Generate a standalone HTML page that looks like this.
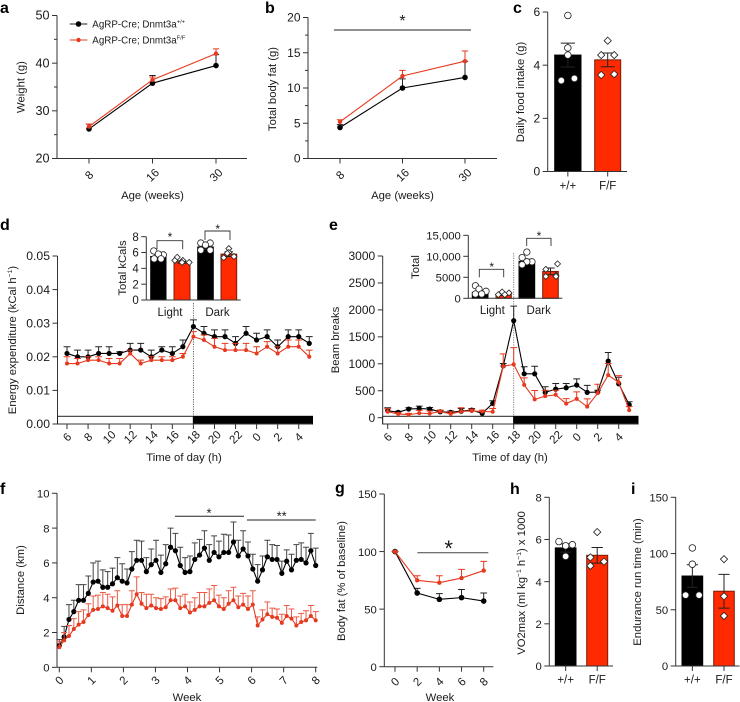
<!DOCTYPE html>
<html lang="en">
<head>
<meta charset="utf-8">
<title>AgRP-Cre Dnmt3a metabolic phenotype figure</title>
<style>
html,body{margin:0;padding:0;background:#fff;}
svg{display:block;width:740px;height:702px;filter:blur(0.35px);}
text{font-family:"Liberation Sans",Arial,sans-serif;font-size:11.5px;fill:#1a1a1a;}
.letter{font-weight:bold;font-size:16px;fill:#000;}
.title{font-size:11.3px;}
.legend{font-size:9.8px;}
.sup{font-size:6.8px;}
</style>
</head>
<body>
<svg id="fig" xmlns="http://www.w3.org/2000/svg" width="740" height="702" viewBox="0 0 740 702">
  <text class="letter" x="0" y="13">a</text>
  <text class="letter" x="265" y="13">b</text>
  <text class="letter" x="513" y="13">c</text>
  <text class="letter" x="0" y="230">d</text>
  <text class="letter" x="329" y="230">e</text>
  <text class="letter" x="0" y="494">f</text>
  <text class="letter" x="335" y="493">g</text>
  <text class="letter" x="510" y="494">h</text>
  <text class="letter" x="631" y="494">i</text>

  <text class="title" text-anchor="middle" x="152.5" y="199">Age (weeks)</text>
  <text class="title" text-anchor="middle" transform="translate(24.5,87) rotate(-90)">Weight (g)</text>
  <text class="title" text-anchor="middle" x="402.5" y="199">Age (weeks)</text>
  <text class="title" text-anchor="middle" transform="translate(276,89) rotate(-90)">Total body fat (g)</text>
  <text class="title" text-anchor="middle" transform="translate(524,92) rotate(-90)">Daily food intake (g)</text>
  <text class="title" text-anchor="middle" x="184" y="461">Time of day (h)</text>
  <text class="title" text-anchor="middle" transform="translate(16,340) rotate(-90)">Energy expenditure (kCal h<tspan class="sup" dy="-4">−1</tspan><tspan dy="4">)</tspan></text>
  <text class="title" text-anchor="middle" transform="translate(126,268) rotate(-90)">Total kCals</text>
  <text class="title" text-anchor="middle" x="510" y="461">Time of day (h)</text>
  <text class="title" text-anchor="middle" transform="translate(339,340) rotate(-90)">Beam breaks</text>
  <text class="title" text-anchor="middle" transform="translate(419,267) rotate(-90)">Total</text>
  <text class="title" text-anchor="middle" x="187" y="701">Week</text>
  <text class="title" text-anchor="middle" transform="translate(24,580) rotate(-90)">Distance (km)</text>
  <text class="title" text-anchor="middle" x="440" y="701">Week</text>
  <text class="title" text-anchor="middle" transform="translate(345,581) rotate(-90)">Body fat (% of baseline)</text>
  <text class="title" text-anchor="middle" transform="translate(525,583) rotate(-90)">VO2max (ml kg<tspan class="sup" dy="-4">−1</tspan><tspan dy="4"> h</tspan><tspan class="sup" dy="-4">−1</tspan><tspan dy="4">) x 1000</tspan></text>
  <text class="title" text-anchor="middle" transform="translate(641,582) rotate(-90)">Endurance run time (min)</text>

  <g>
    <line x1="69.7" y1="24" x2="87.3" y2="24" stroke="#222" stroke-width="1"/>
    <circle cx="78.5" cy="24" r="2.8" fill="#000"/>
    <text class="legend" x="92.3" y="27.5">AgRP-Cre; Dnmt3a<tspan font-size="5.8" dy="-4">+/+</tspan></text>
    <line x1="69.7" y1="40" x2="87.3" y2="40" stroke="#e6391f" stroke-width="1"/>
    <circle cx="78.5" cy="40" r="2.2" fill="#e6391f"/>
    <text class="legend" x="92.3" y="43.5">AgRP-Cre; Dnmt3a<tspan font-size="5.8" dy="-4">F/F</tspan></text>
  </g>

  <g id="charts"></g>
</svg>

<script>
/* Panel a */
const aCategories = ['8','16','30'];
const aBlack = [26.2,35.8,39.5];
const aBlackUpper = [27.2,37.4,41.8];
const aRed = [26.7,36.5,42];
const aRedUpper = [27.2,37.1,43];
const aYTicks = [20,30,40,50];
const aYMinor = [25,35,45];
/* Panel b */
const bCategories = ['8','16','30'];
const bBlack = [4.4,10,11.5];
const bBlackUpper = [4.8,11.3,13.8];
const bRed = [5.2,11.7,13.8];
const bRedUpper = [5.5,12.5,15.25];
const bYTicks = [0,5,10,15,20];
const bYMinor = [2.5,7.5,12.5,17.5];
/* Panel c */
const groupLabels = ['+/+','F/F'];
const cBars = [4.38,4.2];
const cErr = [0.45,0.26];
const cYTicks = [0,2,4,6];
const cBlackDots = [5.87,4.65,4.38,3.42,3.5];
const cBlackSlots = [0,0,0,-0.5,0.5];
const cRedDots = [4.92,4.38,4.38,3.63,3.66];
const cRedSlots = [0,-0.5,0.5,-0.5,0.5];
/* Panel d */
const hourLabels = ['6','8','10','12','14','16','18','20','22','0','2','4'];
const hours = [6,7,8,9,10,11,12,13,14,15,16,17,18,19,20,21,22,23,24,25,26,27,28,29];
const dBlack = [.021,.020,.020,.021,.021,.021,.022,.022,.020,.022,.021,.023,.029,.027,.026,.026,.024,.027,.025,.026,.023,.026,.026,.024];
const dBlackUpper = [.023,.022,.022,.023,.023,.0215,.024,.024,.022,.023,.023,.025,.031,.029,.028,.028,.026,.029,.027,.028,.025,.028,.028,.026];
const dRed = [.018,.018,.019,.019,.018,.018,.021,.018,.019,.019,.019,.020,.026,.025,.023,.022,.022,.022,.021,.023,.021,.023,.023,.020];
const dRedUpper = [.020,.0195,.020,.020,.0195,.0195,.022,.019,.020,.020,.020,.021,.0275,.0265,.0255,.024,.024,.024,.023,.0245,.023,.025,.025,.022];
const dYTicks = ['0.00','0.01','0.02','0.03','0.04','0.05'];
/* Panel d inset */
const dInsetBars = [5.5,4.8,6.7,5.8];
const dInsetErr = [0.25,0.15,0.3,0.3];
const dInsetTicks = [0,2,4,6,8];
const dInsetDots = [[6.2,5.7,5.8,5.2,5.2],[5.4,5.0,5.0,4.75,4.75],[7.2,7.2,6.95,6.3,6.3],[6.5,6.0,5.35,5.5,5.9]];
const dInsetSlots = [[-0.6,0.65,0,-0.55,0.35],[-0.6,0.1,-0.9,0.9,0],[-0.6,0.6,0,-0.6,0.6],[0,0,-0.65,0.65,-0.2]];
/* Panel e */
const eBlack = [130,100,160,170,160,110,100,120,140,80,265,960,1800,814,814,470,530,555,605,470,475,1050,630,240];
const eBlackUpper = [185,120,185,215,190,130,125,170,170,110,315,1005,2070,945,955,575,635,635,720,600,510,1210,750,295];
const eRed = [110,70,55,85,75,115,70,115,125,115,110,955,990,610,340,400,425,260,350,205,455,790,655,140];
const eRedUpper = [165,90,80,135,125,140,110,185,160,140,170,1185,1300,740,505,510,510,355,480,350,620,1005,780,205];
const eYTicks = [0,500,1000,1500,2000,2500,3000];
/* Panel e inset */
const eInsetBars = [1400,900,8800,6400];
const eInsetErr = [500,200,500,800];
const eInsetTicks = [0,5000,10000,15000];
const eInsetTickLabels = ['0','5000','10,000','15,000'];
const eInsetDots = [[3000,2200,1670,1030,1030],[1500,1270,870,870],[11000,9700,8700,8700,8000],[8200,6900,5500,5200,5200]];
const eInsetSlots = [[-0.6,-0.15,0.75,-0.6,0.2],[-0.2,0.7,-0.7,0.15],[0,-0.6,0.65,0,-0.6],[0.9,-0.6,0.7,-0.6,0.7]];
/* Panel f */
const fWeeks = ['0','1','2','3','4','5','6','7','8'];
const fBlack = [1.25,1.75,2.75,3.2,3.85,3.85,4.25,4.9,4.95,4.6,4.6,4.8,5.15,4.95,4.85,5.65,6.15,6.15,5.5,5.9,6.15,5.45,5.95,6.9,6.7,5.85,5.45,5.5,6.2,6.45,6.85,6.15,6.6,6.35,6.6,6.6,7.2,6.4,6.8,6.4,5.65,4.95,5.6,6.35,6.2,6.2,5.4,6.1,5.6,6.15,6.2,6.0,6.7,5.85];
const fBlackUpper = [1.6,2.35,3.6,3.85,4.75,4.75,5.25,6.0,6.1,5.6,5.5,5.7,6.3,5.95,5.65,6.65,7.3,7.25,6.3,6.8,7.3,6.45,7.05,8.0,7.7,6.9,6.3,6.4,7.15,7.35,7.85,7.05,7.55,7.25,7.65,7.6,8.35,7.3,7.85,7.2,6.5,5.9,6.4,7.3,7.05,7,6.1,6.75,6.5,7.05,7.15,6.9,7.7,6.85];
const fRed = [1.15,1.55,1.8,2.2,2.45,2.6,3.0,3.3,3.35,3.5,3.4,3.25,3.55,2.95,2.95,3.6,4.2,3.65,3.4,3.55,3.4,3.35,3.45,3.85,3.85,3.4,3.5,3.15,3.3,3.5,3.5,3.7,3.85,3.5,3.35,3.65,3.85,3.45,3.6,3.35,3.6,2.4,2.75,3.05,2.9,2.85,2.55,2.95,2.8,2.4,2.6,2.7,2.95,2.7];
const fRedUpper = [1.5,2.0,2.4,2.8,3.2,3.3,3.65,4.1,4.15,4.3,4.2,4.05,4.4,3.6,3.6,4.4,5.2,4.3,4.2,4.2,4.0,3.95,4.05,4.5,4.55,4.1,4.2,3.75,4.0,4.3,4.3,4.5,4.7,4.15,4.0,4.4,4.6,4.1,4.25,4.1,4.4,2.9,3.3,3.75,3.4,3.35,3.05,3.55,3.35,2.9,3.1,3.25,3.55,3.2];
const fYTicks = [0,2,4,6,8,10];
/* Panel g */
const gWeeks = [0,2,4,6,8];
const gBlack = [100,64,58.5,60,57];
const gBlackUpper = [100,68,63.5,67,64];
const gRed = [100,75,73,77,83.5];
const gRedUpper = [100,79,79,84.5,91.5];
const gYTicks = [0,50,100,150];
/* Panel h */
const hBars = [5.6,5.25];
const hErr = [0.2,0.37];
const hYTicks = [0,2,4,6,8];
const hBlackDots = [5.9,5.7,5.75,5.2];
const hBlackSlots = [-0.65,0,0.65,0];
const hRedDots = [6.35,5.15,4.95,4.75];
const hRedSlots = [0,-0.65,0.65,-0.65];
/* Panel i */
const iBars = [80,66.5];
const iErr = [10,15];
const iYTicks = [0,50,100,150];
const iBlackDots = [105,90.5,63,63];
const iBlackSlots = [0,0,-0.65,0.65];
const iRedDots = [95,62,44.5];
const iRedSlots = [0,0,0];

const SVGNS = 'http://www.w3.org/2000/svg';
const RED = '#e6391f';
const BAR_RED = '#ff2a00';
const root = document.getElementById('charts');

function add(parent, tag, attrs, txt) {
  const n = document.createElementNS(SVGNS, tag);
  for (const k in attrs) n.setAttribute(k, attrs[k]);
  if (txt !== undefined) n.textContent = txt;
  parent.appendChild(n);
  return n;
}
function linear(d0, d1, r0, r1) {
  return v => r0 + (v - d0) * (r1 - r0) / (d1 - d0);
}
function panel(name) {
  const g = add(root, 'g', {});
  
  
  return g;
}
function axisLine(g, x1, y1, x2, y2, name, color) {
  const l = add(g, 'line', {x1, y1, x2, y2, stroke: color || '#333', 'stroke-width': 1});
  
  
  return l;
}
function yAxis(g, y, x0, ticks, labels, minors, y0, y1, fs) {
  axisLine(g, x0, y0, x0, y1, 'y-axis-line');
  ticks.forEach((t, i) => {
    axisLine(g, x0 - 5, y(t), x0, y(t), 'y-tick');
    const lab = add(g, 'text', {x: x0 - 7.5, y: y(t) + 4.2, 'text-anchor': 'end', style: 'font-size:' + fs + 'px'}, labels ? labels[i] : String(t));
    
    
  });
  (minors || []).forEach(t => {
    axisLine(g, x0 - 3, y(t), x0, y(t), 'y-minor-tick');
  });
}
function xAxis(g, positions, labels, yA, x0, x1, off, rotated) {
  axisLine(g, x0, yA, x1, yA, 'x-axis-line');
  positions.forEach((p, i) => {
    axisLine(g, p, yA, p, yA + 5, 'x-tick');
    const cy = yA + off;
    const a = {x: 0, y: 4, 'text-anchor': 'middle'};
    a.transform = 'translate(' + p + ',' + cy + ')' + (rotated ? ' rotate(-45)' : '');
    const lab = add(g, 'text', a, labels[i]);
    
    
  });
}
function series(g, name, xs, vals, upper, x, y, color, errColor, r, capW, lineW) {
  const sg = add(g, 'g', {});
  
  
  vals.forEach((v, i) => {
    const px = x(xs[i]);
    const e = add(sg, 'path', {
      d: 'M' + px + ' ' + y(v) + 'V' + y(upper[i]) + 'M' + (px - capW) + ' ' + y(upper[i]) + 'H' + (px + capW),
      stroke: errColor, 'stroke-width': 1, fill: 'none'
    });
    
    
  });
  const pl = add(sg, 'polyline', {
    points: vals.map((v, i) => x(xs[i]) + ',' + y(v)).join(' '),
    fill: 'none', stroke: color, 'stroke-width': lineW || 1.1
  });
  
  
  vals.forEach((v, i) => {
    const c = add(sg, 'circle', {cx: x(xs[i]), cy: y(v), r, fill: color});
    
    
  });
}
function bar(g, name, x0, x1, y, v, fill, stroke, err, errColor) {
  const r = add(g, 'rect', {x: x0, y: y(v), width: x1 - x0, height: y(0) - y(v), fill, stroke, 'stroke-width': 1});
  
  
  const c = (x0 + x1) / 2, cap = (x1 - x0) * 0.27;
  const e = add(g, 'path', {
    d: 'M' + c + ' ' + y(v - err) + 'V' + y(v + err) +
       'M' + (c - cap) + ' ' + y(v + err) + 'H' + (c + cap) +
       'M' + (c - cap) + ' ' + y(v - err) + 'H' + (c + cap),
    stroke: errColor, 'stroke-width': 1, fill: 'none'
  });
  
  
}
function dots(g, name, x0, x1, y, vals, slots, shape, r) {
  const c = (x0 + x1) / 2, half = (x1 - x0) / 2;
  vals.forEach((v, i) => {
    const px = c + slots[i] * half, py = y(v);
    let n;
    if (shape === 'circle') {
      n = add(g, 'circle', {cx: px, cy: py, r, fill: '#fff', stroke: '#222', 'stroke-width': 0.8});
    } else {
      const d = r + 0.6;
      n = add(g, 'polygon', {
        points: px + ',' + (py - d) + ' ' + (px + d) + ',' + py + ' ' + px + ',' + (py + d) + ' ' + (px - d) + ',' + py,
        fill: '#fff', stroke: '#222', 'stroke-width': 0.8
      });
    }
    
    
  });
}
function sigLine(g, x0, x1, yy, name, color) {
  axisLine(g, x0, yy, x1, yy, name, color || '#222');
}
function star(g, x, yy, s, fs) {
  const t = add(g, 'text', {x, y: yy, 'text-anchor': 'middle', style: 'font-size:' + (fs || 12) + 'px'}, s);
  
  
}
function bracket(g, x0, x1, top, bot) {
  const b = add(g, 'path', {d: 'M' + x0 + ' ' + bot + 'V' + top + 'H' + x1 + 'V' + bot, fill: 'none', stroke: '#333', 'stroke-width': 0.9});
  
  
}
function idx(arr) { return arr.map((_, i) => i); }

/* ---------- a ---------- */
(function () {
  const g = panel('panel-a');
  const y = linear(20, 50, 158.5, 15.5);
  const x = linear(0, 2, 89, 216);
  yAxis(g, y, 57, aYTicks, null, aYMinor, 15.5, 158.5, 12.6);
  xAxis(g, idx(aCategories).map(x), aCategories, 158.5, 57, 247, 16.5, true);
  series(g, 'a-control', idx(aBlack), aBlack, aBlackUpper, x, y, '#000', '#222', 2.8, 3.2);
  series(g, 'a-knockout', idx(aRed), aRed, aRedUpper, x, y, RED, RED, 2.2, 3.2);
})();

/* ---------- b ---------- */
(function () {
  const g = panel('panel-b');
  const y = linear(0, 20, 158.5, 17.5);
  const x = linear(0, 2, 340, 465);
  yAxis(g, y, 308, bYTicks, null, bYMinor, 17.5, 158.5, 12);
  xAxis(g, idx(bCategories).map(x), bCategories, 158.5, 308, 497, 16.5, true);
  series(g, 'b-control', idx(bBlack), bBlack, bBlackUpper, x, y, '#000', '#222', 2.8, 3.2);
  series(g, 'b-knockout', idx(bRed), bRed, bRedUpper, x, y, RED, RED, 2.2, 3.2);
  sigLine(g, 334, 471, 30, 'b-significance-line');
  star(g, 402.5, 26, '*', 16);
})();

/* ---------- two-bar panels ---------- */
function twoBars(name, bars, errs, ticks, yMax, yTop, yBot, xA, xEnd, b1, b2, blackDots, blackSlots, redDots, redSlots, labY, fs) {
  const g = panel(name);
  const y = linear(0, yMax, yBot, yTop);
  yAxis(g, y, xA, ticks, null, null, yTop, yBot, fs);
  const centers = [(b1[0] + b1[1]) / 2, (b2[0] + b2[1]) / 2];
  bar(g, name + '-bar-control', b1[0], b1[1], y, bars[0], '#000', '#000', errs[0], '#222');
  bar(g, name + '-bar-knockout', b2[0], b2[1], y, bars[1], BAR_RED, '#7a1c08', errs[1], '#222');
  xAxis(g, centers, groupLabels, yBot, xA, xEnd, labY, false);
  dots(g, name + '-dot-control', b1[0], b1[1], y, blackDots, blackSlots, 'circle', 3.3);
  dots(g, name + '-dot-knockout', b2[0], b2[1], y, redDots, redSlots, 'diamond', 3);
}
twoBars('panel-c', cBars, cErr, cYTicks, 6, 12, 171.5, 547.7, 627, [554.7, 581], [594.7, 620.7], cBlackDots, cBlackSlots, cRedDots, cRedSlots, 14, 12);
twoBars('panel-h', hBars, hErr, hYTicks, 8, 497.3, 666, 549.3, 613, [555.3, 576], [586.7, 607.7], hBlackDots, hBlackSlots, hRedDots, hRedSlots, 13.5, 11.3);
twoBars('panel-i', iBars, iErr, iYTicks, 150, 497.3, 666, 675.7, 739.5, [682, 702.7], [713.7, 734.3], iBlackDots, iBlackSlots, iRedDots, iRedSlots, 13.5, 11.3);

/* ---------- d / e time strip ---------- */
function strip(g, name, x0, xm, x1) {
  const w = add(g, 'rect', {x: x0, y: 416.3, width: xm - x0, height: 7.7, fill: '#fff', stroke: '#222', 'stroke-width': 1});
  
  
  const b = add(g, 'rect', {x: xm, y: 416.3, width: x1 - xm, height: 7.7, fill: '#000', stroke: '#000', 'stroke-width': 1});
  
  
}
function hourTickPositions(x) { return hourLabels.map((_, i) => x(6 + i * 2)); }

/* ---------- d ---------- */
(function () {
  const g = panel('panel-d');
  const y = linear(0, 0.05, 424, 256);
  const x = linear(6, 18, 67, 193.4);
  yAxis(g, y, 57.5, dYTicks.map(Number), dYTicks, null, 256, 424, 12.2);
  strip(g, 'd', 57.5, x(18), 312.5);
  xAxis(g, hourTickPositions(x), hourLabels, 424, 57.5, 312.5, 13, true);
  const dl = add(g, 'line', {x1: x(18), y1: 303, x2: x(18), y2: 416, stroke: '#555', 'stroke-width': 0.9, 'stroke-dasharray': '1.2 1.2'});
  
  
  series(g, 'd-control', hours, dBlack, dBlackUpper, x, y, '#000', '#222', 2.6, 3.4);
  series(g, 'd-knockout', hours, dRed, dRedUpper, x, y, RED, RED, 2, 3.4);

  const ig = panel('panel-d-inset');
  const iy = linear(0, 8, 300, 236.7);
  yAxis(ig, iy, 146.3, dInsetTicks, null, null, 236.7, 300, 11.5);
  const edges = [[150.7, 166], [174, 190], [197.7, 213.3], [221, 236.7]];
  edges.forEach((e, i) => {
    bar(ig, 'd-inset-bar-' + i, e[0], e[1], iy, dInsetBars[i], i % 2 ? BAR_RED : '#000', i % 2 ? '#7a1c08' : '#000', dInsetErr[i], '#222');
  });
  edges.forEach((e, i) => {
    dots(ig, 'd-inset-dot-' + i, e[0], e[1], iy, dInsetDots[i], dInsetSlots[i], i % 2 ? 'diamond' : 'circle', i % 2 ? 2.4 : 3.2);
  });
  axisLine(ig, 146.3, 300, 240.7, 300, 'x-axis-line');
  [[170, 'Light'], [217.5, 'Dark']].forEach(p => {
    const t = add(ig, 'text', {x: p[0], y: 316, 'text-anchor': 'middle'}, p[1]);
    
    
  });
  bracket(ig, 157, 182.7, 240.7, 249.3);
  bracket(ig, 205, 230, 231, 240);
  star(ig, 170, 241, '*', 12);
  star(ig, 217.7, 233, '*', 12);
})();

/* ---------- e ---------- */
(function () {
  const g = panel('panel-e');
  const y = linear(0, 3000, 417.7, 256);
  const x = linear(6, 18, 387.7, 513.7);
  yAxis(g, y, 382.7, eYTicks, null, null, 256, 424, 12);
  strip(g, 'e', 382.7, x(18), 638);
  xAxis(g, hourTickPositions(x), hourLabels, 424, 382.7, 638, 13, true);
  const dl = add(g, 'line', {x1: x(18), y1: 253, x2: x(18), y2: 416, stroke: '#777', 'stroke-width': 0.9, 'stroke-dasharray': '1.2 1.2'});
  
  
  series(g, 'e-control', hours, eBlack, eBlackUpper, x, y, '#000', '#222', 2.6, 3.4);
  series(g, 'e-knockout', hours, eRed, eRedUpper, x, y, RED, RED, 2, 3.4);

  const ig = panel('panel-e-inset');
  const iy = linear(0, 15000, 298.3, 235.3);
  yAxis(ig, iy, 468.3, eInsetTicks, eInsetTickLabels, null, 235.3, 298.3, 11.3);
  const edges = [[472.3, 488], [496, 511.3], [519, 534.7], [542.7, 558.3]];
  edges.forEach((e, i) => {
    bar(ig, 'e-inset-bar-' + i, e[0], e[1], iy, eInsetBars[i], i % 2 ? BAR_RED : '#000', i % 2 ? '#7a1c08' : '#000', eInsetErr[i], '#222');
  });
  edges.forEach((e, i) => {
    dots(ig, 'e-inset-dot-' + i, e[0], e[1], iy, eInsetDots[i], eInsetSlots[i], i % 2 ? 'diamond' : 'circle', i % 2 ? 2.4 : 3.2);
  });
  axisLine(ig, 468.3, 298.3, 562.3, 298.3, 'x-axis-line');
  [[492.3, 'Light'], [538.7, 'Dark']].forEach(p => {
    const t = add(ig, 'text', {x: p[0], y: 314, 'text-anchor': 'middle'}, p[1]);
    
    
  });
  bracket(ig, 479.3, 503.7, 269.3, 277.3);
  bracket(ig, 526.7, 551, 238.3, 246);
  star(ig, 491.7, 271, '*', 12);
  star(ig, 539, 240, '*', 12);
})();

/* ---------- f ---------- */
(function () {
  const g = panel('panel-f');
  const y = linear(0, 10, 667.3, 493.3);
  const w = linear(0, 8, 59.3, 315.7);
  const x = i => w(i * 8 / (fBlack.length - 1));
  yAxis(g, y, 57, fYTicks, null, null, 493.3, 667.3, 11.3);
  xAxis(g, fWeeks.map((_, i) => w(i)), fWeeks, 667.3, 57, 317.3, 13, true);
  series(g, 'f-control', idx(fBlack), fBlack, fBlackUpper, x, y, '#000', '#444', 2.6, 3);
  series(g, 'f-knockout', idx(fRed), fRed, fRedUpper, x, y, RED, '#ec5a44', 2, 3);
  sigLine(g, 175, 244, 516.3, 'f-significance-line-1');
  sigLine(g, 247, 315.7, 520, 'f-significance-line-2');
  star(g, 209, 517.5, '*', 13);
  star(g, 281.7, 520.5, '**', 13);
})();

/* ---------- g ---------- */
(function () {
  const g = panel('panel-g');
  const y = linear(0, 150, 666.7, 494);
  const x = linear(0, 8, 395, 483.7);
  yAxis(g, y, 384.3, gYTicks, null, null, 494, 666.7, 11.3);
  xAxis(g, gWeeks.map(x), gWeeks.map(String), 666.7, 384.3, 493.3, 15, true);
  series(g, 'g-control', gWeeks, gBlack, gBlackUpper, x, y, '#000', '#222', 2.8, 3.4);
  series(g, 'g-knockout', gWeeks, gRed, gRedUpper, x, y, RED, RED, 2.2, 3.4);
  sigLine(g, 417.3, 488.3, 552.7, 'g-significance-line', '#444');
  star(g, 448.7, 556, '*', 22);
})();
</script>
</body>
</html>
